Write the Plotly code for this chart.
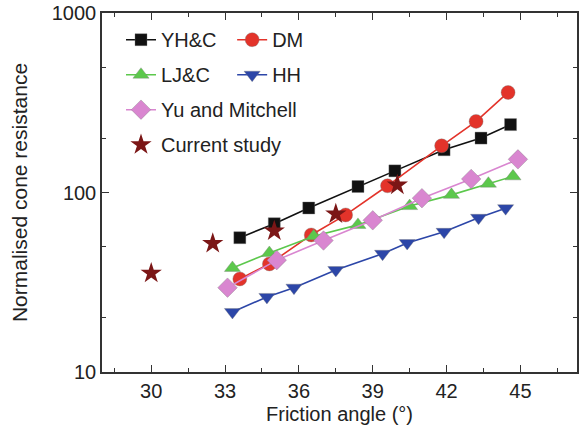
import plotly.graph_objects as go

# ---- data ----
yhc_x = [33.6, 35.0, 36.4, 38.4, 39.9, 41.9, 43.4, 44.6]
yhc_y = [56, 67, 82, 108, 132, 173, 201, 239]

dm_x = [33.6, 34.8, 36.5, 37.9, 39.6, 41.8, 43.2, 44.5]
dm_y = [33, 40, 58, 75, 109, 182, 249, 361]

ljc_x = [33.3, 34.8, 36.6, 38.4, 40.5, 42.2, 43.7, 44.7]
ljc_y = [38, 46, 57, 66, 84, 97, 112, 123]

hh_x = [33.3, 34.7, 35.8, 37.5, 39.4, 40.4, 41.9, 43.3, 44.4]
hh_y = [21.6, 26.2, 29.5, 37, 45.6, 52.3, 60.4, 72.3, 81.8]

ym_x = [33.1, 35.1, 37.0, 39.0, 41.0, 43.0, 44.9]
ym_y = [29.5, 42, 54, 70, 93, 119, 153]

cs_x = [30.0, 32.5, 35.0, 37.5, 40.0]
cs_y = [35.5, 52, 61, 76, 110]

x_ticks = [30, 33, 36, 39, 42, 45]
y_ticks = [10, 100, 1000]

FONT = "Liberation Sans, Arial, sans-serif"

fig = go.Figure()

def line_trace(x, y, name, color, symbol, size, legend):
    return go.Scatter(
        x=x, y=y, name=name, mode="lines+markers",
        line=dict(color=color, width=1.6),
        marker=dict(symbol=symbol, size=size, color=color,
                    line=dict(width=0.6, color="rgba(120,120,120,0.6)")),
        legend=legend, legendgroup=name,
    )

fig.add_trace(line_trace(yhc_x, yhc_y, "YH&C", "#111111", "square", 12, "legend"))
fig.add_trace(line_trace(dm_x, dm_y, "DM", "#e3332a", "circle", 14, "legend2"))
fig.add_trace(line_trace(ljc_x, ljc_y, "LJ&C", "#5cc84c", "triangle-up", 14, "legend"))
fig.add_trace(line_trace(hh_x, hh_y, "HH", "#2c46a8", "triangle-down", 14, "legend2"))
fig.add_trace(line_trace(ym_x, ym_y, "Yu and Mitchell", "#d986d0", "diamond", 15, "legend"))
fig.add_trace(go.Scatter(
    x=cs_x, y=cs_y, name="Current study", mode="markers",
    marker=dict(symbol="star", size=16, color="#7b1616", line=dict(width=0)),
    legend="legend", legendgroup="Current study",
))

axis_common = dict(
    showline=True, linecolor="#333333", linewidth=1.5, mirror="ticks",
    ticks="inside", tickcolor="#333333", tickwidth=1.3, ticklen=7,
    showgrid=False, zeroline=False, automargin=False,
    ticklabeloverflow="allow",
    tickfont=dict(family=FONT, size=20, color="#222222"),
)

fig.update_xaxes(
    **axis_common,
    range=[28, 47.3], tickvals=x_ticks, ticktext=[str(v) for v in x_ticks],
    minor=dict(dtick=1.5, tick0=28.5, ticks="inside", ticklen=4, tickcolor="#333333", tickwidth=1.2),
    title=dict(text="Friction angle (°)", font=dict(family=FONT, size=20, color="#222222"), standoff=6),
)
fig.update_yaxes(
    **axis_common,
    type="log", range=[1, 3], tickvals=y_ticks, ticktext=[str(v) for v in y_ticks],
    minor=dict(ticks="inside", ticklen=4, tickcolor="#333333", tickwidth=1.2, dtick="D2"),
    title=dict(text="Normalised cone resistance", font=dict(family=FONT, size=21, color="#222222"), standoff=18),
)

legend_common = dict(
    font=dict(family=FONT, size=20, color="#222222"),
    bgcolor="rgba(0,0,0,0)", borderwidth=0,
    traceorder="grouped", tracegroupgap=6,
    xanchor="left", yanchor="top",
)
fig.update_layout(
    width=580, height=438,
    margin=dict(l=102, r=3, t=13, b=66),
    plot_bgcolor="white", paper_bgcolor="white",
    legend=dict(x=0.04, y=0.98, **legend_common),
    legend2=dict(x=0.274, y=0.98, **legend_common),
)

# remove the page's default body margin so the figure fills the window
fig.write_html(
    "out.html",
    config={"displayModeBar": False},
    post_script="document.body.style.margin='0';document.body.style.overflow='hidden';",
)
